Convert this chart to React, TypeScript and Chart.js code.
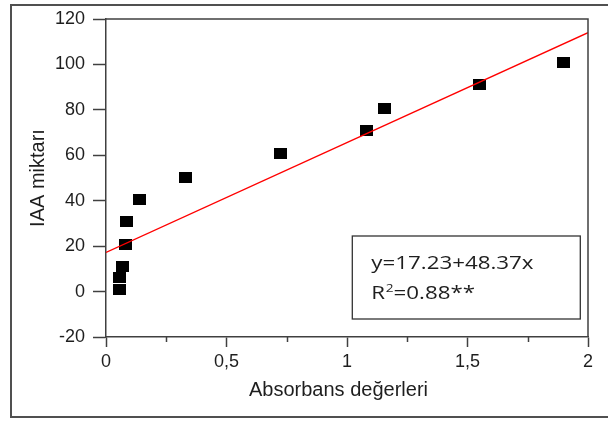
import React, { useEffect, useRef } from 'react';
import { Chart, registerables } from 'chart.js';

Chart.register(...registerables);

// Observed data (absorbance vs IAA amount)
const absorbans = [0.054, 0.058, 0.069, 0.08, 0.086, 0.137, 0.328, 0.722, 1.081, 1.155, 1.548, 1.899];
const iaaMiktari = [0.7, 6.3, 10.9, 20.8, 31, 40.6, 50.3, 60.6, 70.7, 80.8, 91.1, 101];

// Regression line end points (y = 17.23 + 48.37x)
const fitX = [0, 2];
const fitY = [17.23, 113.97];

// Axis settings
const xMin = 0, xMax = 2, xStep = 0.25;
const yMin = -20, yMax = 120, yStep = 20;
const xMinorTicks = [0.25, 0.75, 1.25, 1.75];

const xTitle = 'Absorbans değerleri';
const yTitle = 'IAA miktarı';
const eqLine = 'y=17.23+48.37x';
const r2Prefix = 'R';
const r2Sup = '2';
const r2Rest = '=0.88**';

const AXIS = '#404040';
const TEXT = '#1e1e1e';

function makeSquare(): HTMLCanvasElement {
  const c = document.createElement('canvas');
  c.width = 13;
  c.height = 11;
  const g = c.getContext('2d')!;
  g.fillStyle = '#000';
  g.fillRect(0, 0, 13, 11);
  return c;
}

const decor = {
  id: 'decor',
  afterDraw(chart: any) {
    const { ctx, chartArea: a, scales } = chart;
    const xs = scales.x;
    ctx.save();
    ctx.strokeStyle = AXIS;
    ctx.lineWidth = 1.5;
    ctx.beginPath();
    ctx.moveTo(a.left, a.top);
    ctx.lineTo(a.right, a.top);
    ctx.lineTo(a.right, a.bottom);
    ctx.stroke();
    // minor ticks on x axis
    ctx.beginPath();
    xMinorTicks.forEach((v) => {
      const px = Math.round(xs.getPixelForValue(v)) + 0.5;
      ctx.moveTo(px, a.bottom);
      ctx.lineTo(px, a.bottom + 5);
    });
    ctx.stroke();
    // x axis title
    ctx.fillStyle = TEXT;
    ctx.font = '20px "Liberation Sans", Arial, sans-serif';
    ctx.textAlign = 'center';
    ctx.textBaseline = 'middle';
    ctx.fillText(xTitle, (a.left + a.right) / 2 - 8.5, a.bottom + 53);
    // equation box
    const bx = xs.getPixelForValue(1.022);
    const bw = 228;
    const by = a.top + 217;
    const bh = 83;
    ctx.strokeStyle = '#333';
    ctx.lineWidth = 1.3;
    ctx.strokeRect(bx, by, bw, bh);
    ctx.textAlign = 'left';
    ctx.textBaseline = 'alphabetic';
    const sx = 1.24;
    const tx = bx + 19;
    ctx.font = '18px "Open Sans", sans-serif';
    ctx.save();
    ctx.translate(tx, by + 33);
    ctx.scale(sx, 1);
    ctx.fillText(eqLine, 0, 0);
    ctx.restore();
    ctx.save();
    ctx.translate(tx, by + 63);
    ctx.scale(sx, 1);
    ctx.fillText(r2Prefix, 0, 0);
    let w = ctx.measureText(r2Prefix).width;
    ctx.font = '11px "Open Sans", sans-serif';
    ctx.fillText(r2Sup, w + 0.5, -7);
    w += ctx.measureText(r2Sup).width + 0.5;
    ctx.font = '18px "Open Sans", sans-serif';
    ctx.fillText(r2Rest, w, 0);
    ctx.restore();
    ctx.restore();
  },
};

export default function App() {
  const ref = useRef<HTMLCanvasElement | null>(null);

  useEffect(() => {
    document.body.style.margin = '0';
    const canvas = ref.current!;
    const square = makeSquare();
    const chart = new Chart(canvas, {
      type: 'scatter',
      data: {
        datasets: [
          {
            label: 'fit',
            data: fitX.map((x, i) => ({ x, y: fitY[i] })),
            showLine: true,
            borderColor: '#ff0000',
            borderWidth: 1.4,
            pointRadius: 0,
            order: 0,
          } as any,
          {
            label: 'IAA',
            data: absorbans.map((x, i) => ({ x, y: iaaMiktari[i] })),
            pointStyle: square,
            pointRadius: 7,
            backgroundColor: '#000',
            borderWidth: 0,
            order: 1,
          } as any,
        ],
      },
      options: {
        animation: false,
        responsive: false,
        devicePixelRatio: 1,
        layout: { padding: { left: 0, right: 20, top: 19, bottom: 0 } },
        plugins: { legend: { display: false }, tooltip: { enabled: false } },
        scales: {
          x: {
            type: 'linear',
            min: xMin,
            max: xMax,
            ticks: {
              stepSize: xStep,
              autoSkip: false,
              maxRotation: 0,
              padding: 4,
              color: TEXT,
              font: { family: '"Liberation Sans", Arial, sans-serif', size: 18 },
              callback: (v: any) => ((Number(v) * 2) % 1 === 0 ? String(v).replace('.', ',') : ''),
            },
            grid: {
              drawOnChartArea: false,
              tickLength: 10,
              tickWidth: 1.5,
              tickColor: (c: any) => (c.tick && (c.tick.value * 2) % 1 === 0 ? AXIS : 'rgba(0,0,0,0)'),
            },
            border: { color: AXIS, width: 1.5 },
            afterFit: (s: any) => {
              s.height = 84;
            },
          },
          y: {
            type: 'linear',
            min: yMin,
            max: yMax,
            ticks: {
              stepSize: yStep,
              padding: 8,
              color: TEXT,
              font: { family: '"Liberation Sans", Arial, sans-serif', size: 18 },
            },
            grid: { drawOnChartArea: false, tickLength: 13, tickWidth: 1.5, tickColor: AXIS },
            border: { color: AXIS, width: 1.5 },
            title: {
              display: true,
              text: yTitle,
              color: TEXT,
              font: { family: '"Liberation Sans", Arial, sans-serif', size: 20 },
              padding: { top: 26, bottom: 0 },
            },
            afterFit: (s: any) => {
              s.width = 106;
            },
          },
        },
      },
      plugins: [decor],
    });
    return () => chart.destroy();
  }, []);

  return (
    <div style={{ position: 'fixed', left: 0, top: 0, width: 608, height: 421, overflow: 'hidden', background: '#fff' }}>
      <div
        style={{
          position: 'absolute',
          left: 10,
          top: 4,
          width: 700,
          height: 410,
          borderTop: '2px solid #505050',
          borderLeft: '2px solid #505050',
          borderBottom: '2px solid #505050',
        }}
      />
      <canvas ref={ref} width={608} height={421} style={{ position: 'absolute', left: 0, top: 0 }} />
    </div>
  );
}
